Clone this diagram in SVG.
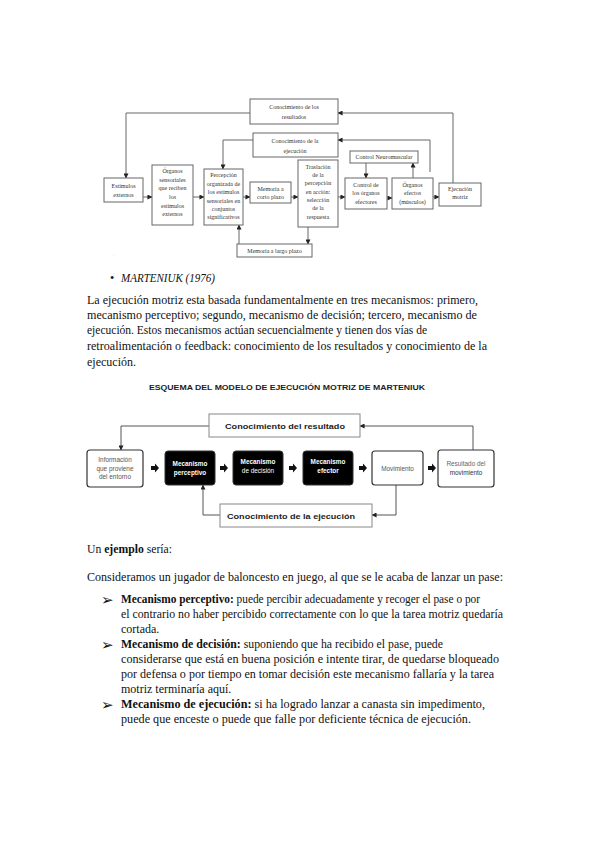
<svg xmlns="http://www.w3.org/2000/svg" width="599" height="848" viewBox="0 0 599 848">
<defs>
<style>
.bx{fill:#fff;stroke:#666;stroke-width:1}
.t1{font-family:"Liberation Serif",serif;font-size:6px;fill:#333;text-anchor:middle}
.ln{fill:none;stroke:#666;stroke-width:1}
.ln2{fill:none;stroke:#555;stroke-width:1}
.body{font-family:"Liberation Serif",serif;font-size:12px;fill:#111}
.b{font-weight:bold}
.t2{font-family:"Liberation Sans",Arial,sans-serif;font-size:6.4px;text-anchor:middle}
.wb{fill:#fff;stroke:#333;stroke-width:1.2}
.bk{fill:#000;stroke:#333;stroke-width:1}
.fb{fill:#fff;stroke:#888;stroke-width:1}
.arw{font-family:"DejaVu Sans",sans-serif;font-size:15px;font-weight:bold;fill:#111}
</style>
<marker id="ah" viewBox="0 0 6 6" refX="5.5" refY="3" markerWidth="5" markerHeight="5" orient="auto" markerUnits="userSpaceOnUse"><path d="M0,0 L6,3 L0,6 z" fill="#222"/></marker>
<marker id="ah2" viewBox="0 0 6 6" refX="5.5" refY="3" markerWidth="5" markerHeight="5" orient="auto" markerUnits="userSpaceOnUse"><path d="M0,0 L6,3 L0,6 z" fill="#222"/></marker>
<path id="blk" d="M0,-2 L4,-2 L4,-4.5 L8,0 L4,4.5 L4,2 L0,2 z" fill="#111"/>
</defs>
<rect width="599" height="848" fill="#fff"/>

<!-- ===== Top diagram ===== -->
<g id="top-connectors">
<path class="ln" d="M250,113 H126 V178" marker-end="url(#ah)"/>
<path class="ln" d="M253,140 H223 V169" marker-end="url(#ah)"/>
<path class="ln" d="M143,197 H152" marker-end="url(#ah)"/>
<path class="ln" d="M193,197 H204" marker-end="url(#ah)"/>
<path class="ln" d="M243,197 H250" marker-end="url(#ah)"/>
<path class="ln" d="M291,197 H298" marker-end="url(#ah)"/>
<path class="ln" d="M338,197 H345" marker-end="url(#ah)"/>
<path class="ln" d="M387,198 H392" marker-end="url(#ah)"/>
<path class="ln" d="M433,197 H439" marker-end="url(#ah)"/>
<path class="ln" d="M239,244 V225" marker-end="url(#ah)"/>
<path class="ln" d="M308,227 V244" marker-end="url(#ah)"/>
<path class="ln" d="M366,163 V178" marker-end="url(#ah)"/>
<path class="ln" d="M413,178 V163" marker-end="url(#ah)"/>
<path class="ln" d="M430,172 V140 H338" marker-end="url(#ah)"/>
<path class="ln" d="M453,183 V113 H338" marker-end="url(#ah)"/>
</g>
<g id="n-resultados"><rect class="bx" x="250" y="99" width="88" height="25"/><text class="t1" x="294" y="109">Conocimiento de los</text><text class="t1" x="294" y="119">resultados</text></g>
<g id="n-ejecucion"><rect class="bx" x="253" y="133" width="85" height="24"/><text class="t1" x="295" y="143">Conocimiento de la</text><text class="t1" x="295" y="153">ejecución</text></g>
<g id="n-estimulos"><rect class="bx" x="104" y="178" width="39" height="24"/><text class="t1" x="123.5" y="188">Estímulos</text><text class="t1" x="123.5" y="197">externos</text></g>
<g id="n-organos-sens"><rect class="bx" x="152" y="165" width="41" height="60"/><text class="t1" x="172.5" y="173">Órganos</text><text class="t1" x="172.5" y="181.5">sensoriales</text><text class="t1" x="172.5" y="190">que reciben</text><text class="t1" x="172.5" y="199">los</text><text class="t1" x="172.5" y="207.5">estímulos</text><text class="t1" x="172.5" y="216">externos</text></g>
<g id="n-percepcion"><rect class="bx" x="204" y="169" width="39" height="56"/><text class="t1" x="223.5" y="177">Percepción</text><text class="t1" x="223.5" y="186">organizada de</text><text class="t1" x="223.5" y="194">los estímulos</text><text class="t1" x="223.5" y="203">sensoriales en</text><text class="t1" x="223.5" y="211">conjuntos</text><text class="t1" x="223.5" y="219">significativos</text></g>
<g id="n-memoria-corto"><rect class="bx" x="250" y="182" width="41" height="21"/><text class="t1" x="270.5" y="191">Memoria a</text><text class="t1" x="270.5" y="199">corto plazo</text></g>
<g id="n-traslacion"><rect class="bx" x="298" y="160" width="40" height="67"/><text class="t1" x="318" y="169">Traslación</text><text class="t1" x="318" y="177">de la</text><text class="t1" x="318" y="185">percepción</text><text class="t1" x="318" y="194">en acción:</text><text class="t1" x="318" y="202">selección</text><text class="t1" x="318" y="210">de la</text><text class="t1" x="318" y="219">respuesta</text></g>
<g id="n-memoria-largo"><rect class="bx" x="237" y="244" width="75" height="13"/><text class="t1" x="274.5" y="252.5">Memoria a largo plazo</text></g>
<g id="n-control-neuro"><rect class="bx" x="350" y="151" width="68" height="12"/><text class="t1" x="384" y="159">Control Neuromuscular</text></g>
<g id="n-control-org"><rect class="bx" x="345" y="178" width="42" height="31"/><text class="t1" x="366" y="187">Control de</text><text class="t1" x="366" y="195">los órganos</text><text class="t1" x="366" y="204">efectores</text></g>
<g id="n-organos-ef"><rect class="bx" x="392" y="178" width="41" height="31"/><text class="t1" x="412.5" y="187">Órganos</text><text class="t1" x="412.5" y="195">efectos</text><text class="t1" x="412.5" y="204">(músculos)</text></g>
<g id="n-ejec-motriz"><rect class="bx" x="439" y="183" width="42" height="23"/><text class="t1" x="460" y="191">Ejecución</text><text class="t1" x="460" y="199">motriz</text></g>
<text x="113" y="258" font-family="Liberation Sans,sans-serif" font-size="4" fill="#bbb">ʻ</text>

<!-- ===== Body text ===== -->
<text x="110" y="282" class="body">•</text>
<text x="121" y="282" class="body" font-style="italic" textLength="94" lengthAdjust="spacingAndGlyphs">MARTENIUK (1976)</text>
<text x="87" y="304" class="body" textLength="391" lengthAdjust="spacingAndGlyphs">La ejecución motriz esta basada fundamentalmente en tres mecanismos: primero,</text>
<text x="87" y="319" class="body" textLength="390" lengthAdjust="spacingAndGlyphs">mecanismo perceptivo; segundo, mecanismo de decisión; tercero, mecanismo de</text>
<text x="87" y="334" class="body" textLength="340" lengthAdjust="spacingAndGlyphs">ejecución. Estos mecanismos actúan secuencialmente y tienen dos vías de</text>
<text x="87" y="350" class="body" textLength="400" lengthAdjust="spacingAndGlyphs">retroalimentación o feedback: conocimiento de los resultados y conocimiento de la</text>
<text x="87" y="366" class="body">ejecución.</text>

<!-- ===== Second diagram ===== -->
<text x="287" y="390" font-family="Liberation Sans,Arial,sans-serif" font-size="8px" font-weight="bold" fill="#222" text-anchor="middle" textLength="276" lengthAdjust="spacingAndGlyphs">ESQUEMA DEL MODELO DE EJECUCIÓN MOTRIZ DE MARTENIUK</text>
<g id="bottom-connectors">
<path class="ln2" d="M209,426 H121 V450" marker-end="url(#ah2)"/>
<path class="ln2" d="M473,450 V426 H360" marker-end="url(#ah2)"/>
<path class="ln2" d="M396,485 V515 H372" marker-end="url(#ah2)"/>
<path class="ln2" d="M220,515 H203 V485" marker-end="url(#ah2)"/>
<use href="#blk" x="151" y="468"/>
<use href="#blk" x="220" y="468"/>
<use href="#blk" x="289" y="468"/>
<use href="#blk" x="359" y="468"/>
<use href="#blk" x="428" y="468"/>
</g>
<g id="m-resultado"><rect class="fb" x="209" y="414" width="151" height="23"/><text x="285" y="429" font-family="Liberation Sans,Arial,sans-serif" font-size="8px" font-weight="bold" fill="#222" text-anchor="middle" textLength="120" lengthAdjust="spacingAndGlyphs">Conocimiento del resultado</text></g>
<g id="m-ejecucion"><rect class="fb" x="220" y="504" width="152" height="23"/><text x="291" y="519" font-family="Liberation Sans,Arial,sans-serif" font-size="8px" font-weight="bold" fill="#222" text-anchor="middle" textLength="128" lengthAdjust="spacingAndGlyphs">Conocimiento de la ejecución</text></g>
<g id="m-info"><rect class="wb" x="87" y="450" width="56" height="37" rx="3"/><text class="t2" x="115" y="462" fill="#555">Información</text><text class="t2" x="115" y="470.5" fill="#555">que proviene</text><text class="t2" x="115" y="479" fill="#555">del entorno</text></g>
<g id="m-perceptivo"><rect class="bk" x="165" y="451" width="50" height="34" rx="3"/><text class="t2" x="190" y="466" fill="#fff" font-weight="bold">Mecanismo</text><text class="t2" x="190" y="475" fill="#fff" font-weight="bold">perceptivo</text></g>
<g id="m-decision"><rect class="bk" x="233" y="451" width="50" height="34" rx="3"/><text class="t2" x="258" y="464" fill="#fff" font-weight="bold">Mecanismo</text><text class="t2" x="258" y="473" fill="#fff">de decisión</text></g>
<g id="m-efector"><rect class="bk" x="303" y="451" width="50" height="34" rx="3"/><text class="t2" x="328" y="464" fill="#fff" font-weight="bold">Mecanismo</text><text class="t2" x="328" y="473" fill="#fff" font-weight="bold">efector</text></g>
<g id="m-movimiento"><rect class="wb" x="372" y="451" width="51" height="34" rx="3"/><text class="t2" x="397.5" y="470.5" fill="#555">Movimiento</text></g>
<g id="m-resmov"><rect class="wb" x="438" y="450" width="56" height="37" rx="3"/><text class="t2" x="466" y="466" fill="#666">Resultado del</text><text class="t2" x="466" y="475" fill="#333">movimiento</text></g>

<!-- ===== Example text ===== -->
<text x="87" y="553" class="body" textLength="85" lengthAdjust="spacingAndGlyphs">Un <tspan class="b">ejemplo</tspan> sería:</text>
<text x="87" y="581" class="body" textLength="416" lengthAdjust="spacingAndGlyphs">Consideramos un jugador de baloncesto en juego, al que se le acaba de lanzar un pase:</text>
<text x="101" y="605" class="arw">➢</text>
<text x="121" y="603" class="body" textLength="359" lengthAdjust="spacingAndGlyphs"><tspan class="b">Mecanismo perceptivo:</tspan> puede percibir adecuadamente y recoger el pase o por</text>
<text x="121" y="618" class="body" textLength="382" lengthAdjust="spacingAndGlyphs">el contrario no haber percibido correctamente con lo que la tarea motriz quedaría</text>
<text x="121" y="633" class="body">cortada.</text>
<text x="101" y="650" class="arw">➢</text>
<text x="121" y="648" class="body" textLength="322" lengthAdjust="spacingAndGlyphs"><tspan class="b">Mecanismo de decisión:</tspan> suponiendo que ha recibido el pase, puede</text>
<text x="121" y="663" class="body" textLength="378" lengthAdjust="spacingAndGlyphs">considerarse que está en buena posición e intente tirar, de quedarse bloqueado</text>
<text x="121" y="678" class="body" textLength="373" lengthAdjust="spacingAndGlyphs">por defensa o por tiempo en tomar decisión este mecanismo fallaría y la tarea</text>
<text x="121" y="693" class="body">motriz terminaría aquí.</text>
<text x="101" y="710" class="arw">➢</text>
<text x="121" y="708" class="body" textLength="364" lengthAdjust="spacingAndGlyphs"><tspan class="b">Mecanismo de ejecución:</tspan> si ha logrado lanzar a canasta sin impedimento,</text>
<text x="121" y="723" class="body" textLength="350" lengthAdjust="spacingAndGlyphs">puede que enceste o puede que falle por deficiente técnica de ejecución.</text>
</svg>
